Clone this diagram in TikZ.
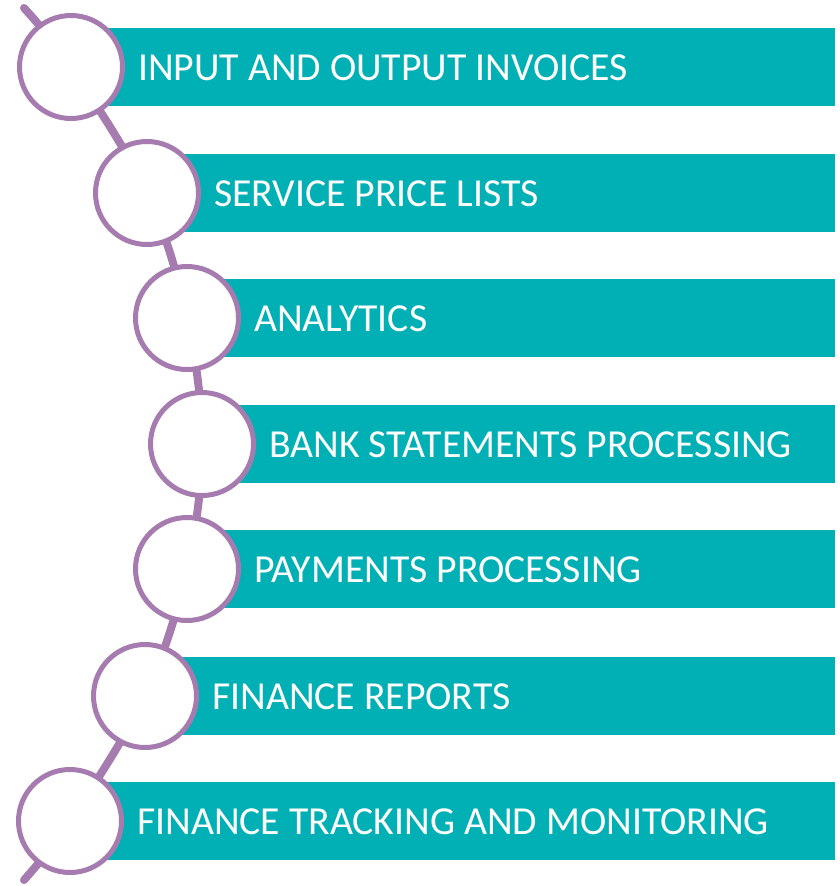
\documentclass[tikz,border=0pt]{standalone}
\usepackage{fontspec}
\setmainfont{Carlito}
\definecolor{barteal}{RGB}{0,176,181}
\definecolor{ringpurple}{RGB}{166,124,176}
\begin{document}
\begin{tikzpicture}[x=1pt,y=-1pt,
  ring/.style={circle, draw=ringpurple, line width=5pt, fill=white,
    minimum size=103pt, inner sep=0pt},
  bartext/.style={anchor=base west, text=white, inner sep=0pt,
    font=\fontsize{39.7}{44}\selectfont},
  spine/.style={draw=ringpurple, line width=8pt, line cap=round}]
\useasboundingbox (0,0) rectangle (840,886);
\def\barh{78}     % bar height
\def\barend{835}  % right end of every bar
\def\txtoff{67}   % text start, right of the ring centre
% ring centres and bars (rows top -> bottom)
\foreach \i/\cx/\cy/\lab in {
  1/71/67/{INPUT AND OUTPUT INVOICES},
  2/147/193/{SERVICE PRICE LISTS},
  3/187/318/{ANALYTICS},
  4/202/444/{BANK STATEMENTS PROCESSING},
  5/187/569/{PAYMENTS PROCESSING},
  6/145/696/{FINANCE REPORTS},
  7/70/821/{FINANCE TRACKING AND MONITORING}}{
  \coordinate (c\i) at (\cx,\cy);
  \fill[barteal] (\cx,\cy-0.5*\barh) rectangle (\barend,\cy+0.5*\barh);
  \node[bartext] (lab\i) at (\cx+\txtoff,\cy+13) {\lab};
}
% loose ends of the spine
\coordinate (top) at (24,8);
\coordinate (bot) at (24,880);
\draw[spine] plot[smooth, tension=0.6] coordinates
  {(top) (c1) (c2) (c3) (c4) (c5) (c6) (c7) (bot)};
% rings on top of the spine
\foreach \i in {1,...,7}
  \node[ring] (ring\i) at (c\i) {};
\end{tikzpicture}
\end{document}
